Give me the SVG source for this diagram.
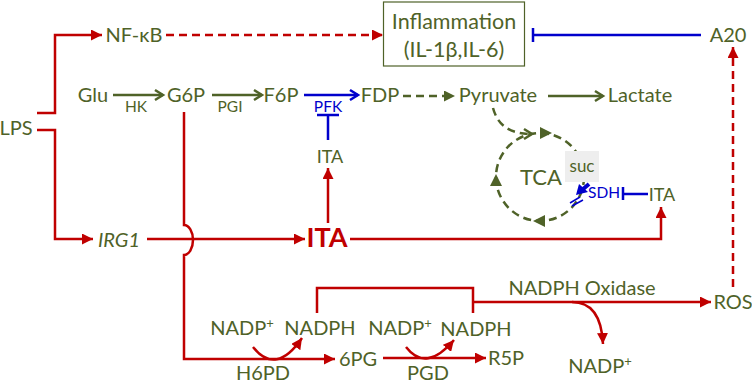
<svg xmlns="http://www.w3.org/2000/svg" width="752" height="383" viewBox="0 0 752 383">
<style>
.t{font-family:Lato,"Open Sans","Liberation Sans",sans-serif;fill:#4f6228;font-size:20px;text-anchor:middle}
.s{font-size:15.5px}
.b{fill:#0000cc}
.r{stroke:#c00000;stroke-width:2.5;fill:none}
.rd{stroke:#c00000;stroke-width:2.5;fill:none;stroke-dasharray:8 5}
.g{stroke:#4f6228;stroke-width:2.5;fill:none}
.gd{stroke:#4f6228;stroke-width:2.5;fill:none;stroke-dasharray:8 5}
.bl{stroke:#0000cc;stroke-width:2.5;fill:none}
</style>
<defs>
<marker id="ra" markerUnits="userSpaceOnUse" markerWidth="12" markerHeight="11" refX="11" refY="5.5" orient="auto"><path d="M0,0 L11,5.5 L0,11 z" fill="#c00000"/></marker>
<marker id="ga" markerUnits="userSpaceOnUse" markerWidth="14" markerHeight="14" refX="11" refY="7" orient="auto"><path d="M3,2 L11,7 L3,12" fill="none" stroke="#4f6228" stroke-width="2.5"/></marker>
<marker id="gt" markerUnits="userSpaceOnUse" markerWidth="12" markerHeight="11" refX="11" refY="5.5" orient="auto"><path d="M0,0 L11,5.5 L0,11 z" fill="#4f6228"/></marker>
<marker id="ba" markerUnits="userSpaceOnUse" markerWidth="14" markerHeight="14" refX="11" refY="7" orient="auto"><path d="M3,2 L11,7 L3,12" fill="none" stroke="#0000cc" stroke-width="2.5"/></marker>
</defs>
<rect width="752" height="383" fill="#ffffff"/>
<g id="connectors">
<path class="r" d="M37,113 H55 V35 H102" marker-end="url(#ra)"/>
<path class="r" d="M37,130 H55 V239 H93" marker-end="url(#ra)"/>
<path class="rd" d="M166,35 H383" marker-end="url(#ra)"/>
<path class="r" d="M147,239 H305" marker-end="url(#ra)"/>
<path class="r" d="M350,239 H661 V207" marker-end="url(#ra)"/>
<path class="r" d="M328,223 V168" marker-end="url(#ra)"/>
<path class="r" d="M184,112 V225 A9 15 0 0 1 184,255 V359 H335" marker-end="url(#ra)"/>
<path class="r" d="M383,358 H486" marker-end="url(#ra)"/>
<path class="r" d="M253,347 Q276,376 302,338" marker-end="url(#ra)"/>
<path class="r" d="M406,347 Q426,373 454,340" marker-end="url(#ra)"/>
<path class="r" d="M317,313 V288 H473 V313"/>
<path class="r" d="M473,302 H711" marker-end="url(#ra)"/>
<path class="r" d="M572,302 Q601,302 603,344" marker-end="url(#ra)"/>
<path class="rd" d="M733,287 V47" marker-end="url(#ra)"/>
<path class="bl" d="M304,95 H358" marker-end="url(#ba)"/>
<path class="bl" d="M328,140 V115 M317,115 H339"/>
<path class="bl" d="M701,35 H533 M533,28 V42"/>
<path class="bl" d="M648,194 H623 M623,187 V200"/>
<path class="g" d="M113,95 H163" marker-end="url(#ga)"/>
<path class="g" d="M212,95 H262" marker-end="url(#ga)"/>
<path class="gd" d="M403,96 H455" marker-end="url(#gt)"/>
<path class="g" d="M548,96 H603" marker-end="url(#ga)"/>
<path class="gd" d="M493,108 C498,126 510,134 532,134" marker-end="url(#ga)"/>
<circle class="gd" cx="540" cy="177" r="44"/>
<polygon points="540,127 552,133 540,139" fill="#4f6228"/>
<polygon points="490,186 496,174 502,186" fill="#4f6228"/>
<polygon points="545,215 533,221 545,227" fill="#4f6228"/>
<path d="M570,203 L580,197 M572,206 L583,200" stroke="#0000cc" stroke-width="1.5"/>
<path d="M589,184 L582,190" stroke="#0000cc" stroke-width="4"/>
<polygon points="576,195 579,184 588,192" fill="#0000cc"/>
</g>
<g id="lps"><text class="t" x="16" y="135">LPS</text></g>
<g id="nfkb"><text class="t" x="134" y="42">NF-κB</text></g>
<g id="inflammation">
<rect x="383.5" y="2" width="141" height="64" fill="#ffffff" stroke="#4f6228" stroke-width="1.2"/>
<text class="t" x="454" y="29" style="font-size:21.5px">Inflammation</text>
<text class="t" x="454" y="57" style="font-size:21.5px">(IL-1β,IL-6)</text>
</g>
<g id="a20"><text class="t" x="728" y="42">A20</text></g>
<g id="glu"><text class="t" x="93" y="102">Glu</text></g>
<g id="hk"><text class="t s" x="136" y="112">HK</text></g>
<g id="g6p"><text class="t" x="186" y="102">G6P</text></g>
<g id="pgi"><text class="t s" x="230" y="112">PGI</text></g>
<g id="f6p"><text class="t" x="281" y="102">F6P</text></g>
<g id="pfk"><text class="t s b" x="328" y="112">PFK</text></g>
<g id="fdp"><text class="t" x="380" y="102">FDP</text></g>
<g id="pyruvate"><text class="t" x="498" y="102">Pyruvate</text></g>
<g id="lactate"><text class="t" x="640" y="102">Lactate</text></g>
<g id="ita-small"><text class="t" x="330" y="163" style="font-size:18px">ITA</text></g>
<g id="irg1"><text class="t" x="119" y="247" font-style="italic">IRG1</text></g>
<g id="ita"><text class="t" x="327" y="247" style="fill:#c00000;font-size:27px;font-weight:bold">ITA</text></g>
<g id="tca"><text class="t" x="541" y="185" style="font-size:22px">TCA</text></g>
<g id="suc">
<rect x="565" y="151" width="34" height="31" fill="#eeeeee"/>
<text class="t" x="582" y="172" style="font-size:17px">suc</text>
</g>
<g id="sdh"><text class="t s b" x="604" y="198">SDH</text></g>
<g id="ita-right"><text class="t" x="662" y="201" style="font-size:18px">ITA</text></g>
<g id="nadp1"><text class="t" x="242" y="335">NADP<tspan font-size="13" dy="-7">+</tspan></text></g>
<g id="nadph1"><text class="t" x="320" y="335">NADPH</text></g>
<g id="nadp2"><text class="t" x="400" y="335">NADP<tspan font-size="13" dy="-7">+</tspan></text></g>
<g id="nadph2"><text class="t" x="476" y="336">NADPH</text></g>
<g id="h6pd"><text class="t" x="263" y="380">H6PD</text></g>
<g id="6pg"><text class="t" x="358" y="366">6PG</text></g>
<g id="pgd"><text class="t" x="428" y="380">PGD</text></g>
<g id="r5p"><text class="t" x="506" y="365">R5P</text></g>
<g id="nadph-oxidase"><text class="t" x="582" y="295">NADPH Oxidase</text></g>
<g id="nadp3"><text class="t" x="600" y="373">NADP<tspan font-size="13" dy="-7">+</tspan></text></g>
<g id="ros"><text class="t" x="733" y="309">ROS</text></g>
</svg>
